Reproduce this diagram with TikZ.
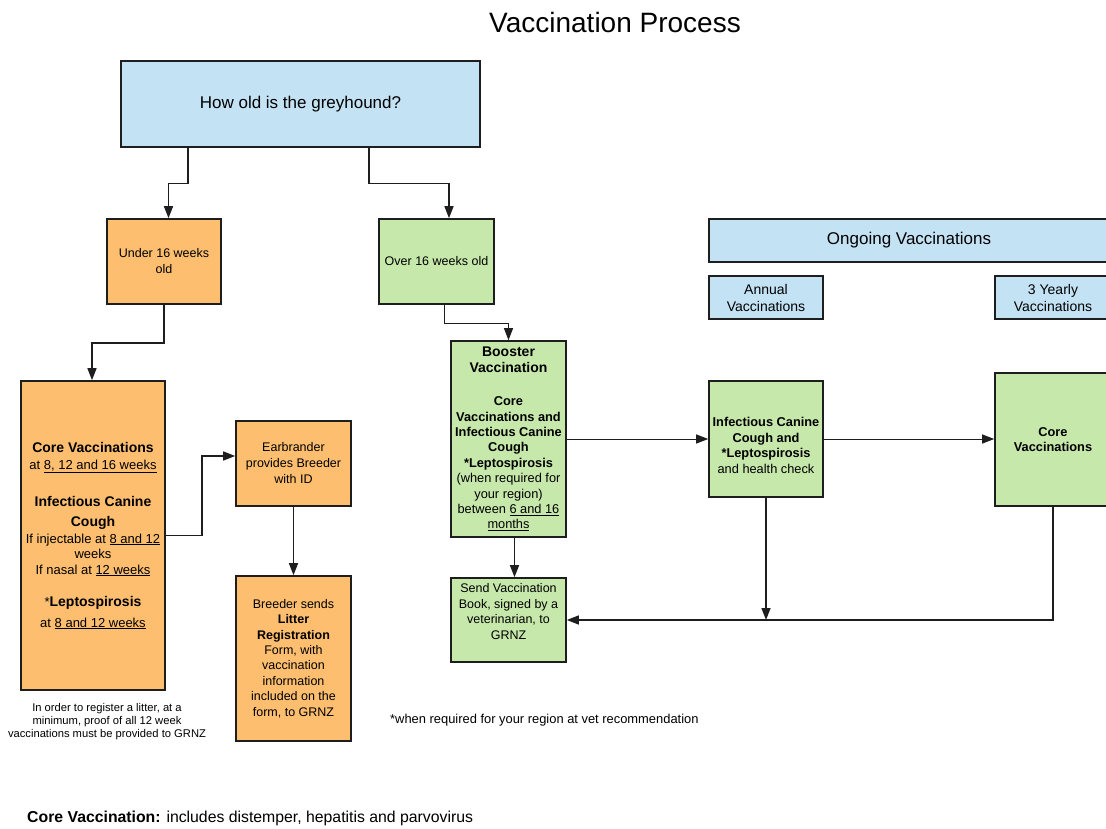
\documentclass[tikz,border=0pt]{standalone}
\usepackage{fontspec}
\setmainfont{Liberation Sans}
\usetikzlibrary{arrows.meta}
\definecolor{qblue}{RGB}{195,227,245}
\definecolor{qorange}{RGB}{253,190,112}
\definecolor{qgreen}{RGB}{199,232,171}
\definecolor{bordc}{RGB}{30,30,30}
\newcommand{\myfs}[2]{\fontsize{#1}{#2}\selectfont}
\begin{document}
\begin{tikzpicture}[x=1pt,y=-1pt,
  box/.style={draw=bordc, line width=1.6pt, rectangle, align=center, inner sep=1pt},
  txt/.style={align=center, inner sep=0pt},
  arr/.style={draw=bordc, line width=1.4pt, -{Triangle[length=12pt,width=9pt]}},
  thinarr/.style={draw=bordc, line width=1pt, -{Triangle[length=12pt,width=9pt]}}]
\clip (0,0) rectangle (1106,829);
\fill[white] (0,0) rectangle (1106,829);

% title
\node[txt, font=\myfs{28}{32}] (title) at (615,22) {Vaccination Process};

% question
\node[box, fill=qblue, line width=1.3pt, minimum width=359pt, minimum height=86pt, font=\myfs{17}{20}] (q) at (300.5,104) {How old is the greyhound?};

% age boxes
\node[box, fill=qorange, minimum width=114pt, minimum height=85pt, font=\myfs{12.5}{16}] (under) at (164,261.5) {Under 16 weeks\\old};
\node[box, fill=qgreen, minimum width=115pt, minimum height=85pt, font=\myfs{12.5}{16}] (over) at (436.5,261.5) {Over 16 weeks old};

% core box (puppy)
\node[box, fill=qorange, minimum width=144pt, minimum height=309pt, font=\myfs{13}{15.5}] (core) at (93,535.5) {%
{\bfseries\myfs{14}{15.5}Core Vaccinations}\\[1.5pt]
at \underline{8, 12 and 16 weeks}\\[21.5pt]
{\bfseries\myfs{14}{15.5}Infectious Canine}\\[4.5pt]
{\bfseries\myfs{14}{15.5}Cough}\\[1.5pt]
If injectable at \underline{8 and 12}\\[-0.5pt]
weeks\\[0.5pt]
If nasal at \underline{12 weeks}\\[16.5pt]
*{\bfseries\myfs{14}{15.5}Leptospirosis}\\[5.5pt]
at \underline{8 and 12 weeks}};

\node[txt, font=\myfs{11.2}{13.4}] (note) at (107,721.5) {In order to register a litter, at a\\minimum, proof of all 12 week\\vaccinations must be provided to GRNZ};

% earbrander and breeder
\node[box, fill=qorange, minimum width=115pt, minimum height=85pt, font=\myfs{12.5}{16}] (ear) at (293.5,463.5) {Earbrander\\provides Breeder\\with ID};
\node[box, fill=qorange, minimum width=115pt, minimum height=165pt, font=\myfs{12.5}{15.4}] (breed) at (293.5,658.5) {Breeder sends\\\textbf{Litter}\\\textbf{Registration}\\Form, with\\vaccination\\information\\included on the\\form, to GRNZ};

% booster
\node[box, fill=qgreen, minimum width=115pt, minimum height=196pt, font=\myfs{12.8}{15.4}] (boost) at (508.5,439) {%
{\bfseries\myfs{14}{15.4}Booster}\\[0.6pt]
{\bfseries\myfs{14}{15.4}Vaccination}\\[17.6pt]
\textbf{Core}\\
\textbf{Vaccinations and}\\
\textbf{Infectious Canine}\\
\textbf{Cough}\\
\textbf{*Leptospirosis}\\
(when required for\\
your region)\\
between \underline{6 and 16}\\
\underline{months}};

% send book
\node[box, fill=qgreen, minimum width=115pt, minimum height=84pt] (send) at (508.5,620) {};
\node[txt, font=\myfs{12.5}{15.7}] (sendt) at (508.5,611.5) {Send Vaccination\\Book, signed by a\\veterinarian, to\\GRNZ};

% ongoing
\node[box, fill=qblue, line width=1.3pt, minimum width=400pt, minimum height=43pt, font=\myfs{17}{20}] (ongo) at (909,240.5) {Ongoing Vaccinations};
\node[box, fill=qblue, minimum width=114pt, minimum height=43pt, font=\myfs{14}{17}] (annual) at (766,297.5) {Annual\\Vaccinations};
\node[box, fill=qblue, minimum width=116pt, minimum height=43pt, font=\myfs{14}{17}] (yearly) at (1053,297.5) {3 Yearly\\Vaccinations};

\node[box, fill=qgreen, minimum width=114pt, minimum height=116pt] (inf) at (766,439) {};
\node[txt, font=\myfs{12.8}{15.7}] (inft) at (766,445.5) {\textbf{Infectious Canine}\\\textbf{Cough and}\\\textbf{*Leptospirosis}\\and health check};

\node[box, fill=qgreen, minimum width=116pt, minimum height=133pt, font=\myfs{12.8}{15.4}\bfseries] (core3) at (1053,439.5) {Core\\Vaccinations};

% footnotes
\node[txt, anchor=west, font=\myfs{12.9}{15}] (foot) at (390,720) {*when required for your region at vet recommendation};
\node[txt, anchor=west, font=\myfs{15.8}{18}] (corenote) at (27,818) {\textbf{Core Vaccination:} includes distemper, hepatitis and parvovirus};

% connectors
\draw[arr] ([xshift=-112.5pt]q.south) -- ++(0,36) -| ([xshift=4.5pt]under.north);
\draw[arr] ([xshift=68.5pt]q.south) -- ++(0,36) -| ([xshift=12.5pt]over.north);
\draw[arr] (under.south) -- ++(0,38) -| ([xshift=-1pt]core.north);
\draw[thinarr] ([xshift=7.5pt]over.south) -- ++(0,19) -| (boost.north);
\draw[arr] (core.east) -- ++(36,0) |- ([yshift=7.5pt]ear.west);
\draw[arr] (ear.south) -- (breed.north);
\draw[arr] ([xshift=6pt]boost.south) -- ([xshift=6pt]send.north);
\draw[thinarr] (boost.east) -- (boost.east -| inf.west);
\draw[thinarr] (inf.east) -- (inf.east -| core3.west);
\draw[arr] (inf.south) -- (inf.south |- send.east);
\draw[arr] (core3.south) |- (send.east);
\end{tikzpicture}
\end{document}
